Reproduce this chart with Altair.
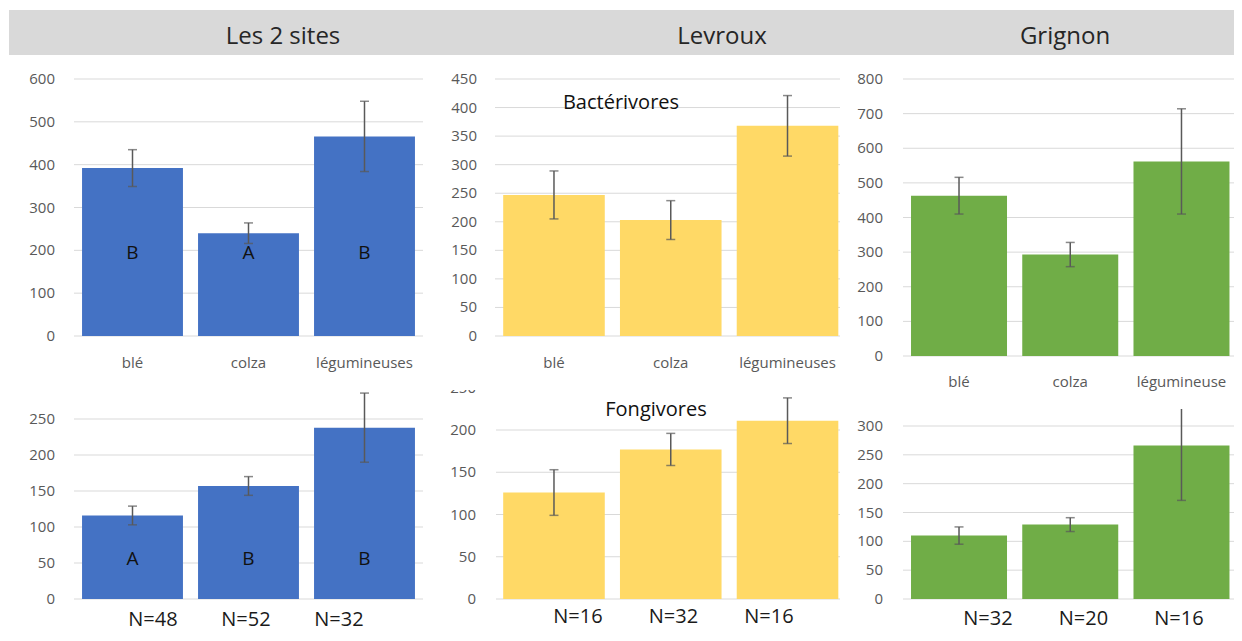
import altair as alt
import pandas as pd

# ---------------- data ----------------
crops = ["blé", "colza", "légumineuses"]
labels_2sites = ["blé", "colza", "légumineuses"]
labels_levroux = ["blé", "colza", "légumineuses"]
labels_grignon = ["blé", "colza", "légumineuse"]

site_titles = ["Les 2 sites", "Levroux", "Grignon"]
group_titles = ["Bactérivores", "Fongivores"]

bact_2sites = [392, 240, 466]
bact_2sites_err = [43, 24, 82]
bact_levroux = [247, 203, 368]
bact_levroux_err = [42, 34, 53]
bact_grignon = [463, 293, 562]
bact_grignon_err = [53, 35, 152]

fong_2sites = [116, 157, 238]
fong_2sites_err = [13, 13, 48]
fong_levroux = [126, 177, 211]
fong_levroux_err = [27, 19, 27]
fong_grignon = [110, 129, 266]
fong_grignon_err = [15, 12, 95]

letters_bact = ["B", "A", "B"]
letters_fong = ["A", "B", "B"]

n_2sites = ["N=48", "N=52", "N=32"]
n_levroux = ["N=16", "N=32", "N=16"]
n_grignon = ["N=32", "N=20", "N=16"]

ticks_2sites_bact = [0, 100, 200, 300, 400, 500, 600]
ticks_levroux_bact = [0, 50, 100, 150, 200, 250, 300, 350, 400, 450]
ticks_grignon_bact = [0, 100, 200, 300, 400, 500, 600, 700, 800]
ticks_2sites_fong = [0, 50, 100, 150, 200, 250, 300]
ticks_levroux_fong = [0, 50, 100, 150, 200, 250]
ticks_grignon_fong = [0, 50, 100, 150, 200, 250, 300]

# ---------------- style ----------------
FONT = "Open Sans"
BLUE = "#4472C4"
YELLOW = "#FFD966"
GREEN = "#70AD47"
GRID = "#D9D9D9"
AXTXT = "#595959"
ERR = "#595959"
OX, OY = 8, 8
W, H = 1226, 625


def X(v):
    return v - OX


def Y(v):
    return v - OY


def one_row():
    return alt.Data(values=[{"a": 1}])


def panel(means, errs, labels, color, ymax, y0, ytop, band, pi, grid, tick_x,
          ticks, label_y=None, letters=None, letter_y=None, nlab=None,
          n_range=None, n_y=None):
    df = pd.DataFrame({
        "crop": crops,
        "mean": means,
        "lo": [m - e for m, e in zip(means, errs)],
        "hi": [m + e for m, e in zip(means, errs)],
        "label": labels,
    })
    if letters is not None:
        df["letter"] = letters
    if nlab is not None:
        df["n"] = nlab
    ys = alt.Scale(domain=[0, ymax], range=[Y(y0), Y(ytop)], nice=False, zero=False)
    xs = alt.Scale(type="band", domain=crops, range=[X(band[0]), X(band[1])],
                   paddingInner=pi, paddingOuter=pi / 2)
    xenc = alt.X("crop:N", scale=xs, axis=None)
    tdf = pd.DataFrame({"v": ticks})
    layers = [
        alt.Chart(tdf).mark_rule(color=GRID, strokeWidth=1).encode(
            y=alt.Y("v:Q", scale=ys, axis=None),
            x=alt.value(X(grid[0])), x2=alt.value(X(grid[1]))),
        alt.Chart(tdf).mark_text(align="right", baseline="middle", font=FONT,
                                 fontSize=15, color=AXTXT).encode(
            y=alt.Y("v:Q", scale=ys, axis=None),
            x=alt.value(X(tick_x)), text=alt.Text("v:Q", format="d")),
        alt.Chart(df).mark_bar(color=color).encode(
            x=xenc, y=alt.Y("mean:Q", scale=ys, axis=None), y2=alt.datum(0)),
        alt.Chart(df).mark_rule(color=ERR, strokeWidth=1.5).encode(
            x=xenc, y=alt.Y("lo:Q", scale=ys, axis=None), y2="hi:Q"),
        alt.Chart(df).mark_tick(color=ERR, thickness=1.5, size=9,
                                orient="horizontal").encode(
            x=xenc, y=alt.Y("lo:Q", scale=ys, axis=None)),
        alt.Chart(df).mark_tick(color=ERR, thickness=1.5, size=9,
                                orient="horizontal").encode(
            x=xenc, y=alt.Y("hi:Q", scale=ys, axis=None)),
    ]
    if label_y is not None:
        layers.append(alt.Chart(df).mark_text(baseline="middle", font=FONT,
                                              fontSize=15, color=AXTXT).encode(
            x=xenc, y=alt.value(Y(label_y)), text="label:N"))
    if letters is not None:
        layers.append(alt.Chart(df).mark_text(baseline="middle", font=FONT,
                                              fontSize=19, color="#111111").encode(
            x=xenc, y=alt.value(Y(letter_y)), text="letter:N"))
    if nlab is not None:
        ns = alt.Scale(type="point", domain=crops,
                       range=[X(n_range[0]), X(n_range[1])], padding=0)
        layers.append(alt.Chart(df).mark_text(baseline="middle", font=FONT,
                                              fontSize=20, color="#1a1a1a").encode(
            x=alt.X("crop:N", scale=ns, axis=None), y=alt.value(Y(n_y)),
            text="n:N"))
    return layers


def mask(x0, x1, y0, y1):
    return alt.Chart(one_row()).mark_rect(color="white").encode(
        x=alt.value(X(x0)), x2=alt.value(X(x1)),
        y=alt.value(Y(y0)), y2=alt.value(Y(y1)))


def label(text, x, y, size, color="#1a1a1a"):
    return alt.Chart(alt.Data(values=[{"t": text}])).mark_text(
        baseline="middle", font=FONT, fontSize=size, color=color).encode(
        x=alt.value(X(x)), y=alt.value(Y(y)), text="t:N")


B1 = (74.5, 422.5)
B2 = (495.6, 845.9)
B3 = (903.4, 1237.1)
PI = 0.13

layers = []
# bottom row (fongivores)
layers += panel(fong_2sites, fong_2sites_err, labels_2sites, BLUE, 250, 599, 419,
                B1, PI, (74, 423), 55, ticks_2sites_fong,
                letters=letters_fong, letter_y=559,
                nlab=n_2sites, n_range=(153, 339), n_y=620)
layers += panel(fong_levroux, fong_levroux_err, labels_levroux, YELLOW, 200, 599, 430,
                B2, PI, (496, 840), 476, ticks_levroux_fong,
                nlab=n_levroux, n_range=(578, 769), n_y=617)
layers += panel(fong_grignon, fong_grignon_err, labels_grignon, GREEN, 300, 599, 426,
                B3, 0.137, (903, 1236), 883, ticks_grignon_fong,
                nlab=n_grignon, n_range=(988, 1179), n_y=619)
layers.append(label(group_titles[1], 656, 410, 20, "#111111"))

# masks (top charts overlap the bottom ones)
layers += [mask(0, 440, 338, 389), mask(440, 850, 338, 390), mask(850, 1242, 358, 409)]

# top row (bactérivores)
layers += panel(bact_2sites, bact_2sites_err, labels_2sites, BLUE, 600, 336, 79,
                B1, PI, (74, 423), 55, ticks_2sites_bact, label_y=363,
                letters=letters_bact, letter_y=253)
layers += panel(bact_levroux, bact_levroux_err, labels_levroux, YELLOW, 450, 336, 79,
                B2, PI, (495, 840), 477, ticks_levroux_bact, label_y=363)
layers += panel(bact_grignon, bact_grignon_err, labels_grignon, GREEN, 800, 356, 79,
                B3, 0.137, (903, 1236), 883, ticks_grignon_bact, label_y=382)
layers.append(label(group_titles[0], 621, 103, 20, "#111111"))

# header band
layers.append(alt.Chart(one_row()).mark_rect(color="#D9D9D9").encode(
    x=alt.value(X(9)), x2=alt.value(X(1242)), y=alt.value(Y(10)), y2=alt.value(Y(55))))
layers.append(label(site_titles[0], 283, 37, 24, "#262626"))
layers.append(label(site_titles[1], 722, 37, 24, "#262626"))
layers.append(label(site_titles[2], 1065, 37, 24, "#262626"))

chart = alt.layer(*layers).resolve_scale(x="independent", y="independent").properties(
    width=W, height=H, padding=0, autosize="none", background="white"
).configure_view(stroke=None)

chart.save("out.html", embed_options={"renderer": "svg", "actions": False})
